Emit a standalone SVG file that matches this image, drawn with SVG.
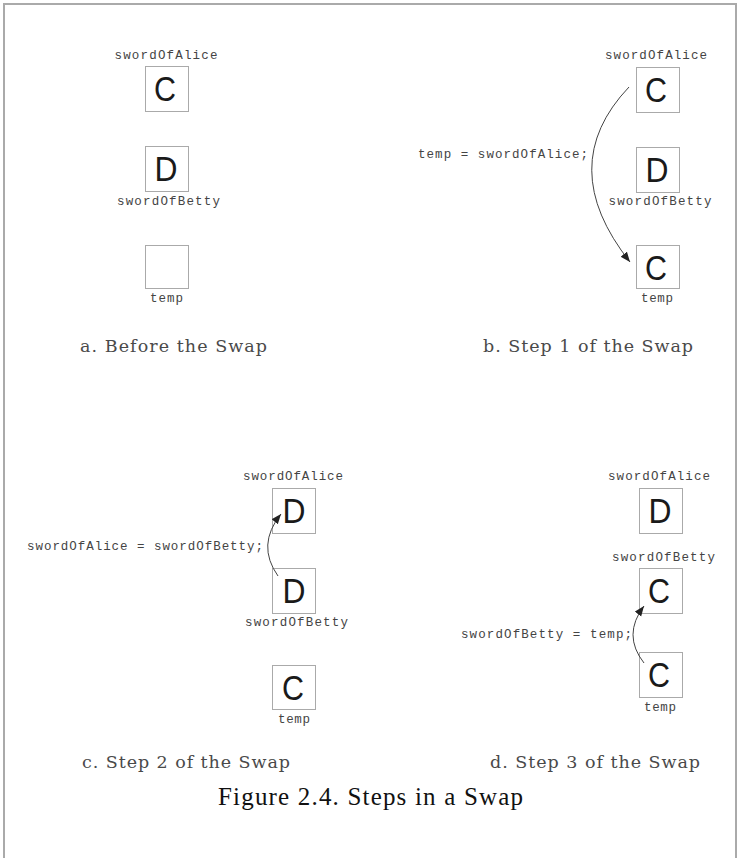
<svg xmlns="http://www.w3.org/2000/svg" width="739" height="858" viewBox="0 0 739 858">
<style>
.box{fill:#fff;stroke:#aaa;stroke-width:1}
.big{font-family:"Liberation Sans",Arial,sans-serif;font-size:35px;fill:#1a1a1a;text-anchor:middle}
.lbl{font-family:"Liberation Mono","DejaVu Sans Mono",monospace;font-size:12.5px;fill:#444;text-anchor:middle}
.code{font-family:"Liberation Mono","DejaVu Sans Mono",monospace;font-size:12.5px;fill:#444}
.cap{font-family:"DejaVu Serif","Liberation Serif",serif;font-size:17.5px;fill:#4a4a4a;text-anchor:middle}
.fig{font-family:"Liberation Serif","DejaVu Serif",serif;font-size:25px;fill:#111;text-anchor:middle}
.arr{fill:none;stroke:#444;stroke-width:1;marker-end:url(#ah)}
</style>
<defs>
<marker id="ah" markerUnits="userSpaceOnUse" markerWidth="12" markerHeight="10" refX="10" refY="4" orient="auto">
<path d="M0,0 L10,4 L0,8 z" fill="#222"/>
</marker>
</defs>
<rect width="739" height="858" fill="#fff"/>
<path d="M4,858 V4 H736 V858" fill="none" stroke="#aaa" stroke-width="2"/>

<g id="panel-a">
<g id="a-alice"><text class="lbl" x="166" y="59" textLength="103">swordOfAlice</text><rect class="box" x="145.5" y="66.5" width="43" height="45"/><text class="big" x="165" y="101" textLength="22" lengthAdjust="spacingAndGlyphs">C</text></g>
<g id="a-betty"><rect class="box" x="145.5" y="146.5" width="43" height="45"/><text class="big" x="166" y="181" textLength="23" lengthAdjust="spacingAndGlyphs">D</text><text class="lbl" x="168.5" y="205" textLength="103">swordOfBetty</text></g>
<g id="a-temp"><rect class="box" x="145.5" y="245.5" width="43" height="43"/><text class="lbl" x="166.5" y="302" textLength="33">temp</text></g>
<text class="cap" x="173.5" y="352" textLength="187">a. Before the Swap</text>
</g>

<g id="panel-b">
<g id="b-alice"><text class="lbl" x="656" y="59" textLength="102">swordOfAlice</text><rect class="box" x="636.5" y="67.5" width="43" height="45"/><text class="big" x="656" y="102" textLength="22" lengthAdjust="spacingAndGlyphs">C</text></g>
<g id="b-betty"><rect class="box" x="636.5" y="147.5" width="43" height="45"/><text class="big" x="657" y="182" textLength="23" lengthAdjust="spacingAndGlyphs">D</text><text class="lbl" x="660" y="205" textLength="103">swordOfBetty</text></g>
<g id="b-temp"><rect class="box" x="636.5" y="245.5" width="43" height="43"/><text class="big" x="656" y="280" textLength="22" lengthAdjust="spacingAndGlyphs">C</text><text class="lbl" x="657" y="302" textLength="32">temp</text></g>
<text class="code" x="418" y="158" textLength="170">temp = swordOfAlice;</text>
<text class="cap" x="588" y="352" textLength="210">b. Step 1 of the Swap</text>
</g>

<g id="panel-c">
<g id="c-alice"><text class="lbl" x="293" y="480" textLength="100">swordOfAlice</text><rect class="box" x="272.5" y="488.5" width="43" height="45"/><text class="big" x="294" y="523" textLength="23" lengthAdjust="spacingAndGlyphs">D</text></g>
<g id="c-betty"><rect class="box" x="272.5" y="568.5" width="43" height="45"/><text class="big" x="294" y="603" textLength="23" lengthAdjust="spacingAndGlyphs">D</text><text class="lbl" x="296.5" y="626" textLength="103">swordOfBetty</text></g>
<g id="c-temp"><rect class="box" x="272.5" y="665.5" width="43" height="44"/><text class="big" x="293" y="700" textLength="22" lengthAdjust="spacingAndGlyphs">C</text><text class="lbl" x="294" y="723" textLength="32">temp</text></g>
<text class="code" x="27" y="550" textLength="236">swordOfAlice = swordOfBetty;</text>
<text class="cap" x="186" y="768" textLength="208">c. Step 2 of the Swap</text>
</g>

<g id="panel-d">
<g id="d-alice"><text class="lbl" x="659" y="480" textLength="102">swordOfAlice</text><rect class="box" x="639.5" y="488.5" width="43" height="45"/><text class="big" x="660" y="523" textLength="23" lengthAdjust="spacingAndGlyphs">D</text></g>
<g id="d-betty"><text class="lbl" x="663.5" y="561" textLength="103">swordOfBetty</text><rect class="box" x="639.5" y="568.5" width="43" height="45"/><text class="big" x="659" y="603" textLength="22" lengthAdjust="spacingAndGlyphs">C</text></g>
<g id="d-temp"><rect class="box" x="639.5" y="652.5" width="43" height="45"/><text class="big" x="659" y="687" textLength="22" lengthAdjust="spacingAndGlyphs">C</text><text class="lbl" x="660" y="711" textLength="32">temp</text></g>
<text class="code" x="461" y="638" textLength="171">swordOfBetty = temp;</text>
<text class="cap" x="595" y="768" textLength="210">d. Step 3 of the Swap</text>
</g>

<g id="connectors">
<path class="arr" d="M629,87 Q554,166 630,262"/>
<path class="arr" d="M278,576 Q256,545 281,514"/>
<path class="arr" d="M644,663 Q622,635 644,606"/>
</g>

<text class="fig" x="370.5" y="805" textLength="305">Figure 2.4. Steps in a Swap</text>
</svg>
